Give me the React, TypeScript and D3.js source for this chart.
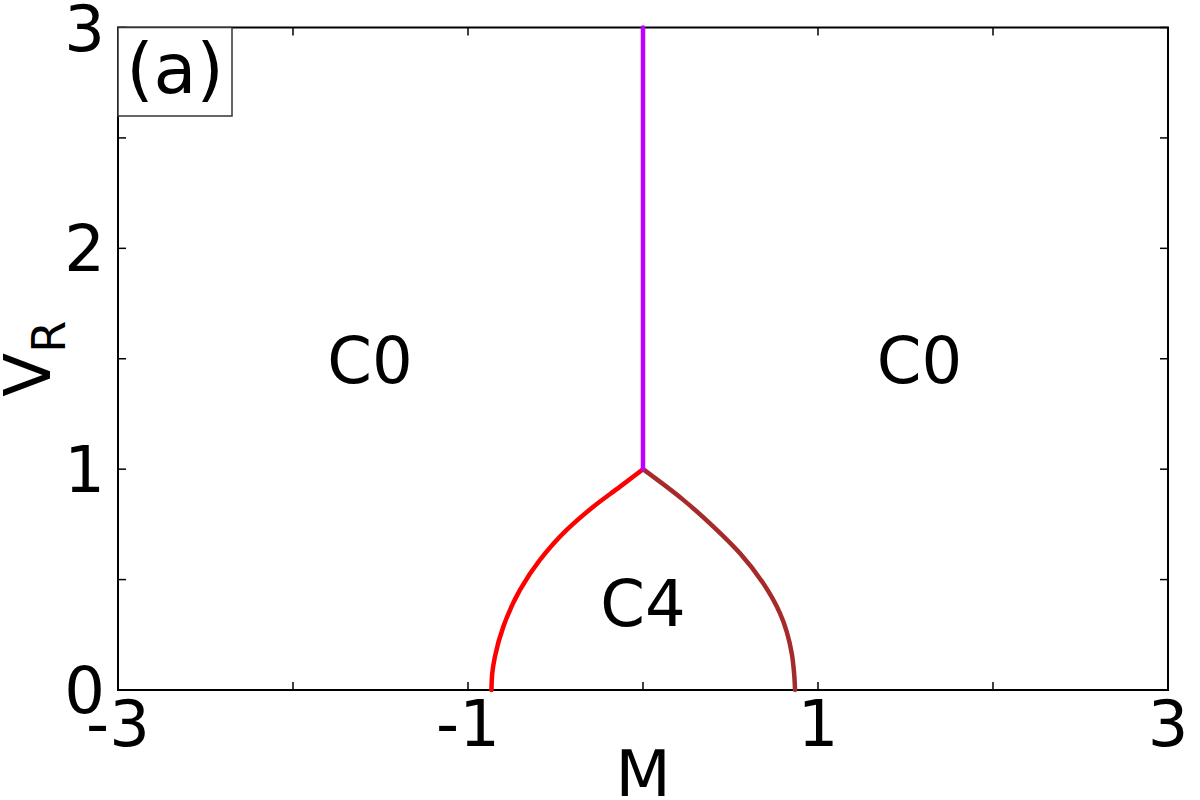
import React, { useEffect, useRef } from "react";
import * as d3 from "d3";

// phase boundaries
const leftBoundaryM = [-0.866, -0.862, -0.846, -0.798, -0.703, -0.589, -0.436, -0.284, -0.131, 0];
const leftBoundaryV = [0, 0.07, 0.151, 0.287, 0.453, 0.589, 0.725, 0.83, 0.921, 1.0];
const rightBoundaryM = [0.869, 0.864, 0.85, 0.783, 0.687, 0.554, 0.402, 0.23, 0];
const rightBoundaryV = [0, 0.07, 0.166, 0.347, 0.483, 0.619, 0.74, 0.861, 1.0];
const topBoundaryM = [0, 0];
const topBoundaryV = [1, 3];

const xTicks = [-3, -2, -1, 0, 1, 2, 3];
const xTickLabels = [-3, -1, 1, 3];
const yTicks = [0, 0.5, 1, 1.5, 2, 2.5, 3];
const yTickLabels = [0, 1, 2, 3];

const regionNames = ["C0", "C0", "C4"];
const regionM = [-1.56, 1.58, 0];
const regionV = [1.39, 1.39, 0.29];

export default function App() {
  const ref = useRef<SVGSVGElement>(null);

  useEffect(() => {
    const svg = d3.select(ref.current);
    svg.selectAll("*").remove();
    const margin = { left: 118, top: 27.5, right: 32, bottom: 110 };
    const width = 1200;
    const height = 800;
    const innerWidth = width - margin.left - margin.right;
    const innerHeight = height - margin.top - margin.bottom;
    const font = "DejaVu Sans, sans-serif";

    const x = d3.scaleLinear().domain([-3, 3]).range([0, innerWidth]);
    const y = d3.scaleLinear().domain([0, 3]).range([innerHeight, 0]);

    const g = svg.append("g").attr("transform", `translate(${margin.left},${margin.top})`);

    // frame
    g.append("rect")
      .attr("width", innerWidth)
      .attr("height", innerHeight)
      .attr("fill", "none")
      .attr("stroke", "black")
      .attr("stroke-width", 2);

    // inward ticks on all four sides
    const tick = 8;
    xTicks.forEach((t) => {
      g.append("line").attr("x1", x(t)).attr("x2", x(t)).attr("y1", innerHeight).attr("y2", innerHeight - tick).attr("stroke", "black").attr("stroke-width", 1.5);
      g.append("line").attr("x1", x(t)).attr("x2", x(t)).attr("y1", 0).attr("y2", tick).attr("stroke", "black").attr("stroke-width", 1.5);
    });
    yTicks.forEach((t) => {
      g.append("line").attr("x1", 0).attr("x2", tick).attr("y1", y(t)).attr("y2", y(t)).attr("stroke", "black").attr("stroke-width", 1.5);
      g.append("line").attr("x1", innerWidth).attr("x2", innerWidth - tick).attr("y1", y(t)).attr("y2", y(t)).attr("stroke", "black").attr("stroke-width", 1.5);
    });

    g.selectAll(".xlab")
      .data(xTickLabels)
      .enter()
      .append("text")
      .attr("x", (d) => x(d))
      .attr("y", innerHeight + 56)
      .attr("text-anchor", "middle")
      .attr("font-family", font)
      .attr("font-size", 64)
      .text((d) => String(d));

    g.selectAll(".ylab")
      .data(yTickLabels)
      .enter()
      .append("text")
      .attr("x", -13)
      .attr("y", (d) => y(d) + 23)
      .attr("text-anchor", "end")
      .attr("font-family", font)
      .attr("font-size", 64)
      .text((d) => String(d));

    // axis titles
    g.append("text")
      .attr("x", innerWidth / 2)
      .attr("y", innerHeight + 106)
      .attr("text-anchor", "middle")
      .attr("font-family", font)
      .attr("font-size", 64)
      .text("M");

    const yTitle = svg
      .append("text")
      .attr("transform", `translate(50,${margin.top + innerHeight / 2}) rotate(-90)`)
      .attr("text-anchor", "middle")
      .attr("font-family", font)
      .attr("font-size", 64);
    yTitle.append("tspan").text("V");
    yTitle.append("tspan").attr("font-size", 46).attr("dy", 15).text("R");

    // boundaries
    const line = d3
      .line<number>()
      .x((d) => x(d))
      .curve(d3.curveMonotoneY);
    const drawCurve = (ms: number[], vs: number[], color: string) => {
      g.append("path")
        .attr("d", line.y((_, i) => y(vs[i]))(ms))
        .attr("fill", "none")
        .attr("stroke", color)
        .attr("stroke-width", 4.5)
        .attr("stroke-linecap", "round")
        .attr("stroke-linejoin", "round");
    };
    drawCurve(leftBoundaryM, leftBoundaryV, "#ff0000");
    drawCurve(rightBoundaryM, rightBoundaryV, "#a52a2a");
    drawCurve(topBoundaryM, topBoundaryV, "#bf00ff");

    // region names
    regionNames.forEach((name, i) => {
      g.append("text")
        .attr("x", x(regionM[i]))
        .attr("y", y(regionV[i]))
        .attr("text-anchor", "middle")
        .attr("font-family", font)
        .attr("font-size", 64)
        .text(name);
    });

    // panel label
    g.append("rect")
      .attr("x", 0)
      .attr("y", 0)
      .attr("width", 114)
      .attr("height", 88.5)
      .attr("fill", "white")
      .attr("stroke", "#333")
      .attr("stroke-width", 1.5);
    g.append("text")
      .attr("x", 57)
      .attr("y", 65.5)
      .attr("text-anchor", "middle")
      .attr("font-family", font)
      .attr("font-size", 70)
      .text("(a)");
  }, []);

  return (
    <div style={{ position: "absolute", left: 0, top: 0 }}>
      <svg ref={ref} width={1200} height={800} style={{ display: "block", background: "white" }} />
    </div>
  );
}
